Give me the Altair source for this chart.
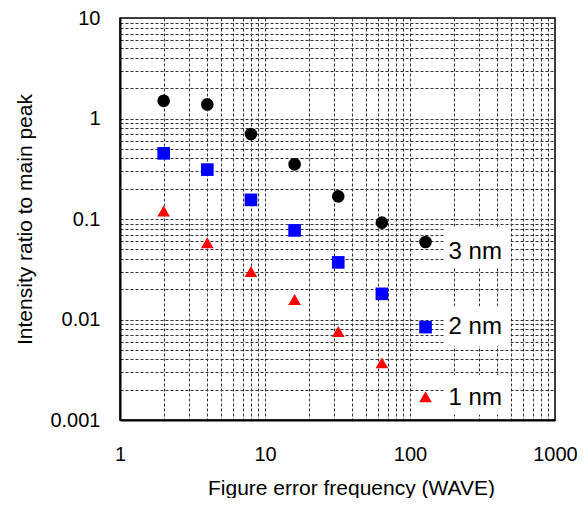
import altair as alt
import pandas as pd

# ---- data ----
series = ["3 nm", "2 nm", "1 nm"]
freq_3nm = [2, 4, 8, 16, 32, 64, 128]
ratio_3nm = [1.50, 1.38, 0.70, 0.35, 0.168, 0.092, 0.059]
freq_2nm = [2, 4, 8, 16, 32, 64, 128]
ratio_2nm = [0.45, 0.31, 0.155, 0.077, 0.037, 0.018, 0.0084]
freq_1nm = [2, 4, 8, 16, 32, 64, 128]
ratio_1nm = [0.12, 0.058, 0.030, 0.0158, 0.0076, 0.0037, 0.0017]

colors = ["#000000", "#0000ff", "#ff0000"]
shapes = ["circle", "square", "triangle-up"]

x_major = [1, 10, 100, 1000]
y_major = [0.001, 0.01, 0.1, 1, 10]
x_ticks = [m * d for d in [1, 10, 100] for m in range(1, 10)] + [1000]
y_ticks = [m * d for d in [0.001, 0.01, 0.1, 1] for m in range(1, 10)] + [10]

rows = []
for name, xs, ys in [("3 nm", freq_3nm, ratio_3nm),
                     ("2 nm", freq_2nm, ratio_2nm),
                     ("1 nm", freq_1nm, ratio_1nm)]:
    for xv, yv in zip(xs, ys):
        rows.append({"series": name, "freq": xv, "ratio": yv})
df = pd.DataFrame(rows)

FONT = "Liberation Sans"


def major_expr(vals):
    return ("indexof([" + ",".join(repr(v) for v in vals) +
            "], datum.value) >= 0 ? datum.label : ''")


x_enc = alt.X("freq:Q",
              scale=alt.Scale(type="log", domain=[1, 1000], nice=False),
              axis=alt.Axis(values=x_ticks, format="~g", labelExpr=major_expr(x_major),
                            title="Figure error frequency (WAVE)", titleX=231,
                            ticks=False, tickSize=0, labelPadding=24, titlePadding=13,
                            labelFlush=False))
y_enc = alt.Y("ratio:Q",
              scale=alt.Scale(type="log", domain=[0.001, 10], nice=False),
              axis=alt.Axis(values=y_ticks, format="~g", labelExpr=major_expr(y_major),
                            title="Intensity ratio to main peak",
                            ticks=False, tickSize=0, labelPadding=20, titlePadding=14,
                            labelFlush=False))

base = alt.Chart(df)

points = base.mark_point(filled=True, opacity=1, size=160).encode(
    x=x_enc, y=y_enc,
    color=alt.Color("series:N", scale=alt.Scale(domain=series, range=colors), legend=None),
    shape=alt.Shape("series:N", scale=alt.Scale(domain=series, range=shapes), legend=None),
)

BOX = "M-1,-0.6L1,-0.6L1,0.6L-1,0.6Z"


def label_layers(name, text_dy, box_dy):
    last = base.transform_filter(alt.datum.series == name).transform_joinaggregate(
        maxf="max(freq)").transform_filter("datum.freq == datum.maxf")
    box = last.mark_point(shape=BOX, filled=True, fill="#ffffff", opacity=1,
                          strokeWidth=0, size=4356, xOffset=52, yOffset=box_dy).encode(
        x=alt.X("freq:Q"), y=alt.Y("ratio:Q"))
    txt = last.mark_text(align="left", baseline="middle", dx=23, dy=text_dy,
                         font=FONT, fontSize=24, color="#000000").encode(
        x=alt.X("freq:Q"), y=alt.Y("ratio:Q"), text="series:N")
    return [box, txt]


layers = [points]
layers += label_layers("3 nm", 10, 5)
layers += label_layers("2 nm", 0, -1)
layers += label_layers("1 nm", 1, -2)

chart = alt.layer(*layers).properties(
    width=435, height=402,
    autosize=alt.AutoSizeParams(type="none"),
    padding={"left": 112, "top": 10, "right": 24, "bottom": 78},
).configure_view(
    stroke="#000000", strokeWidth=1.5,
).configure_axis(
    grid=True, gridColor="#333333", gridDash=[3, 2], gridWidth=1, gridOpacity=1,
    domainColor="#000000", domainWidth=2,
    labelFont=FONT, labelFontSize=20, labelColor="#000000",
    titleFont=FONT, titleFontSize=21, titleColor="#000000", titleFontWeight="normal",
    labelOverlap=False,
)

chart.save("out.html", embed_options={"renderer": "svg", "actions": False})
